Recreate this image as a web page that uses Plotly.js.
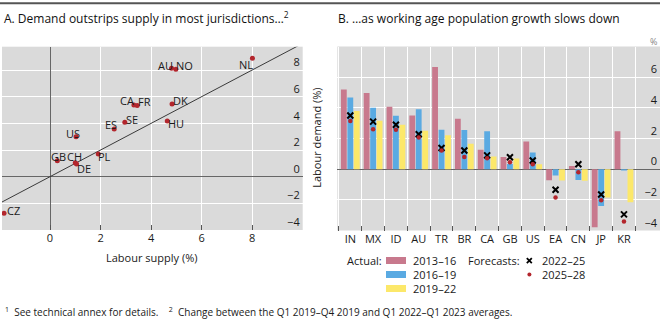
<!DOCTYPE html>
<html><head><meta charset="utf-8">
<script src="https://cdn.plot.ly/plotly-3.0.1.min.js"></script>
<style>html,body{margin:0;padding:0;background:#fff}#chart{width:660px;height:330px}</style>
</head><body><div id="chart"></div>
<script>
// ---- Panel A data: labour supply vs labour demand (%) ----
const countriesA = ['CZ','GB','CH','DE','US','PL','ES','SE','CA','FR','AU','NO','DK','HU','NL'];
const labourSupply = [-1.82, 0.29, 1.0, 1.05, 1.03, 1.91, 2.54, 2.96, 3.32, 3.45, 4.81, 4.98, 4.83, 4.64, 8.01];
const labourDemand = [-2.75, 1.2, 1.05, 0.95, 3.0, 1.7, 3.58, 4.08, 5.38, 5.33, 8.13, 8.06, 5.45, 4.18, 8.88];
const refLineX = [-2, 10];
const refLineY = [-2, 10];

// ---- Panel B data: working age population growth (%) ----
const categoriesB = ['IN','MX','ID','AU','TR','BR','CA','GB','US','EA','CN','JP','KR'];
const actual2013_16 = [5.2, 4.96, 4.07, 3.5, 6.67, 3.28, 1.27, 0.8, 1.8, -0.72, 0.21, -3.78, 2.48];
const actual2016_19 = [4.67, 4.0, 3.48, 3.9, 2.57, 2.56, 2.47, 0.33, 1.08, -0.42, -0.7, -2.4, -0.08];
const actual2019_22 = [3.8, 3.15, 2.9, 2.5, 2.22, 1.65, 0.82, 0.7, 0.32, -0.74, -0.76, -1.85, -2.15];
const forecast2022_25 = [3.5, 3.1, 2.9, 2.28, 1.38, 1.22, 0.9, 0.78, 0.56, -1.34, 0.32, -1.65, -2.95];
const forecast2025_28 = [3.14, 2.6, 2.57, 2.07, 1.22, 0.8, 0.72, 0.45, 0.32, -1.85, -0.2, -2.02, -3.41];
const actualNames = ['2013–16','2016–19','2019–22'];
const forecastNames = ['2022–25','2025–28'];
const yTicksA = [-4,-2,0,2,4,6,8];
const yTicksB = [-4,-2,0,2,4,6];
const xTicksA = [0,2,4,6,8,10];

// ---- styles ----
const FONT = 'Open Sans, Noto Sans, sans-serif';
const barColors = ['#c8798d','#5aaae2','#fce86a'];
const dotColor = '#b3262d';
const W = 660, H = 330;
const px = v => v / W;
const py = v => 1 - v / H;
// label offsets (screen px: dx right, dy down) for panel A labels
const labelOffsets = [[9,-3],[1,-4],[-1,-6],[7,4],[-3,-3.5],[6.5,2.5],[-3.5,-4],[7,-3],[-6.5,-4],[7,-4],[-6.5,-3],[9,-3.5],[8,-3.5],[8.5,3],[-6.5,6.5]];

const traces = [
  {x: refLineX, y: refLineY, mode:'lines', line:{color:'#3a3a3a', width:1}, xaxis:'x', yaxis:'y', hoverinfo:'skip', showlegend:false},
  {x: labourSupply, y: labourDemand, mode:'markers', marker:{color:dotColor, size:5}, text: countriesA, xaxis:'x', yaxis:'y', showlegend:false},
];
[actual2013_16, actual2016_19, actual2019_22].forEach((vals,i)=>{
  traces.push({type:'bar', x: categoriesB, y: vals, name: actualNames[i], marker:{color:barColors[i]}, xaxis:'x2', yaxis:'y2', showlegend:false});
});
traces.push({x: categoriesB, y: forecast2022_25, name: forecastNames[0], mode:'markers', marker:{symbol:'x-thin', size:6, line:{width:2, color:'#000'}, color:'#000'}, xaxis:'x2', yaxis:'y2', showlegend:false});
traces.push({x: categoriesB, y: forecast2025_28, name: forecastNames[1], mode:'markers', marker:{color:dotColor, size:4.5}, xaxis:'x2', yaxis:'y2', showlegend:false});

const annotations = [];
countriesA.forEach((c,i)=>{
  annotations.push({x: labourSupply[i], y: labourDemand[i], xref:'x', yref:'y', text:c, showarrow:false,
    xanchor:'center', yanchor:'middle', xshift: labelOffsets[i][0], yshift: -labelOffsets[i][1],
    font:{family:FONT, size:11, color:'#1a1a1a'}});
});
const txt = (x,y,text,opts={}) => Object.assign({xref:'paper', yref:'paper', x:px(x), y:py(y), text, showarrow:false,
  xanchor:'left', yanchor:'middle', font:{family:FONT, size:11, color:'#1a1a1a'}}, opts);
annotations.push(txt(2, 18, 'A. Demand outstrips supply in most jurisdictions…<sup>2</sup>', {font:{family:FONT, size:12, color:'#111'}}));
annotations.push(txt(336, 18, 'B. …as working age population growth slows down', {font:{family:FONT, size:12, color:'#111'}}));
annotations.push(txt(151.7, 257, 'Labour supply (%)', {xanchor:'center'}));
annotations.push(txt(316.5, 138.3, 'Labour demand (%)', {xanchor:'center', textangle:-90}));
annotations.push(txt(659, 41, '%', {xanchor:'right', font:{family:FONT, size:9, color:'#888'}}));
annotations.push(txt(3, 312, '<sup>1</sup>\u00a0 See technical annex for details.\u00a0\u00a0\u00a0 <sup>2</sup>\u00a0 Change between the Q1 2019–Q4 2019 and Q1 2022–Q1 2023 averages.', {font:{family:FONT, size:10, color:'#1a1a1a'}}));
// legend texts
annotations.push(txt(383.5, 260.5, 'Actual:', {xanchor:'right'}));
actualNames.forEach((n,i)=> annotations.push(txt(411, 260.5 + i*14, n)));
annotations.push(txt(522, 260.5, 'Forecasts:', {xanchor:'right'}));
forecastNames.forEach((n,i)=> annotations.push(txt(539.5, 260.5 + i*14, n)));

const shapes = [
  {type:'line', xref:'paper', yref:'paper', x0:0, x1:1, y0:py(3.3), y1:py(3.3), line:{color:'#555', width:2}},
];
barColors.forEach((c,i)=> shapes.push({type:'rect', xref:'paper', yref:'paper', x0:px(386), x1:px(406), y0:py(257 + i*14), y1:py(264 + i*14), fillcolor:c, line:{width:0}}));
shapes.push({type:'line', xref:'paper', yref:'paper', x0:px(526.8), x1:px(531.8), y0:py(258.2), y1:py(263.2), line:{color:'#000', width:1.8}});
shapes.push({type:'line', xref:'paper', yref:'paper', x0:px(526.8), x1:px(531.8), y0:py(263.2), y1:py(258.2), line:{color:'#000', width:1.8}});
shapes.push({type:'circle', xref:'paper', yref:'paper', x0:px(527.4), x1:px(531.4), y0:py(272.5), y1:py(276.5), fillcolor:dotColor, line:{width:0}});

const axBase = {showline:false, gridcolor:'#ffffff', gridwidth:1, tickfont:{family:FONT, size:11, color:'#1a1a1a'}, fixedrange:true};
const layout = {
  width:W, height:H, margin:{l:0,r:0,t:0,b:0}, paper_bgcolor:'#fff', plot_bgcolor:'#dadada',
  font:{family:FONT}, showlegend:false, barmode:'group', bargap:0.15, bargroupgap:0.1,
  xaxis: Object.assign({}, axBase, {domain:[px(2), px(302.7)], range:[-1.9, 10], anchor:'y', tickmode:'array', tickvals:xTicksA,
    ticks:'inside', ticklen:5, tickcolor:'#555', tickwidth:1, zeroline:true, zerolinecolor:'#666', zerolinewidth:1}),
  yaxis: Object.assign({}, axBase, {domain:[py(230), py(46.7)], range:[-4, 9.75], anchor:'x', side:'right', tickmode:'array', tickvals:yTicksA,
    ticklabelposition:'inside top', ticks:'', zeroline:true, zerolinecolor:'#666', zerolinewidth:1}),
  xaxis2: Object.assign({}, axBase, {domain:[px(337.3), 1], type:'category', categoryorder:'array', categoryarray:categoriesB, range:[-0.57, 13.58], anchor:'y2',
    tickson:'boundaries', ticks:'inside', ticklen:5, tickcolor:'#555', tickwidth:1, showgrid:true, tickangle:0}),
  yaxis2: Object.assign({}, axBase, {domain:[py(230.5), py(46.5)], range:[-4, 8], anchor:'x2', side:'right', tickmode:'array', tickvals:yTicksB,
    ticklabelposition:'inside top', ticks:'', zeroline:true, zerolinecolor:'#666', zerolinewidth:1.2}),
  annotations, shapes
};
Plotly.newPlot('chart', traces, layout, {staticPlot:true, displayModeBar:false});
</script></body></html>
